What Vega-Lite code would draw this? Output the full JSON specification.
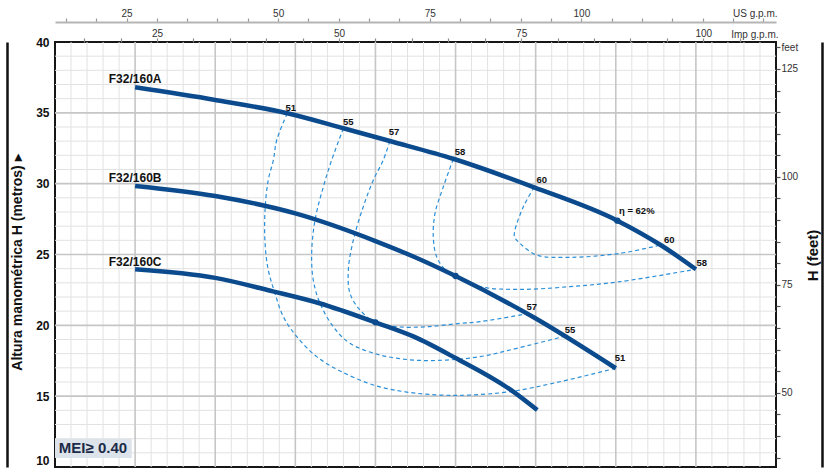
{
  "$schema": "https://vega.github.io/schema/vega-lite/v6.json",
  "width": 721,
  "height": 425,
  "autosize": {"type": "none"},
  "padding": {"left": 55, "top": 42, "right": 60, "bottom": 3},
  "background": "#ffffff",
  "config": {
    "view": {"stroke": "#161616", "strokeWidth": 2},
    "font": "Liberation Sans"
  },
  "datasets": {
    "vminor": [{"q":60},{"q":70},{"q":80},{"q":90},{"q":110},{"q":120},{"q":130},{"q":140},{"q":160},{"q":170},{"q":180},{"q":190},{"q":210},{"q":220},{"q":230},{"q":240},{"q":260},{"q":270},{"q":280},{"q":290},{"q":310},{"q":320},{"q":330},{"q":340},{"q":360},{"q":370},{"q":380},{"q":390},{"q":410},{"q":420},{"q":430},{"q":440},{"q":460},{"q":470},{"q":480},{"q":490}],
    "vmajor": [{"q":100},{"q":150},{"q":200},{"q":250},{"q":300},{"q":350},{"q":400},{"q":450}],
    "hminor": [{"h":11},{"h":12},{"h":13},{"h":14},{"h":16},{"h":17},{"h":18},{"h":19},{"h":21},{"h":22},{"h":23},{"h":24},{"h":26},{"h":27},{"h":28},{"h":29},{"h":31},{"h":32},{"h":33},{"h":34},{"h":36},{"h":37},{"h":38},{"h":39}],
    "hmajor": [{"h":15},{"h":20},{"h":25},{"h":30},{"h":35}],
    "mei": [{"q1": 50, "q2": 97.9, "h1": 11.98, "h2": 10.64, "t": "MEI≥ 0.40", "tq": 73.7, "th": 11.32}],
    "curves": [
      {"c": "A", "q": 100, "h": 36.80}, {"c": "A", "q": 150, "h": 35.91}, {"c": "A", "q": 195, "h": 34.97},
      {"c": "A", "q": 230, "h": 33.91}, {"c": "A", "q": 259, "h": 33.01}, {"c": "A", "q": 299, "h": 31.74},
      {"c": "A", "q": 349, "h": 29.74}, {"c": "A", "q": 401, "h": 27.39}, {"c": "A", "q": 428, "h": 25.67},
      {"c": "A", "q": 450, "h": 23.96},
      {"c": "B", "q": 100, "h": 29.84}, {"c": "B", "q": 150, "h": 29.13}, {"c": "B", "q": 200, "h": 27.90},
      {"c": "B", "q": 250, "h": 25.95}, {"c": "B", "q": 274, "h": 24.84}, {"c": "B", "q": 300, "h": 23.48},
      {"c": "B", "q": 349, "h": 20.55}, {"c": "B", "q": 400, "h": 16.97},
      {"c": "C", "q": 100, "h": 23.96}, {"c": "C", "q": 150, "h": 23.35}, {"c": "C", "q": 186, "h": 22.40},
      {"c": "C", "q": 215, "h": 21.56}, {"c": "C", "q": 250, "h": 20.21}, {"c": "C", "q": 274, "h": 19.20},
      {"c": "C", "q": 300, "h": 17.69}, {"c": "C", "q": 336, "h": 15.32}, {"c": "C", "q": 351, "h": 14.02}
    ],
    "iso": [
      {"e": "51", "s": 1, "q": 195, "h": 34.97}, {"e": "51", "s": 2, "q": 188.4, "h": 33.08},
      {"e": "51", "s": 3, "q": 186.3, "h": 31.67}, {"e": "51", "s": 4, "q": 183.1, "h": 30.26},
      {"e": "51", "s": 5, "q": 181.1, "h": 28.14}, {"e": "51", "s": 6, "q": 181.1, "h": 25.79},
      {"e": "51", "s": 7, "q": 183.1, "h": 23.91}, {"e": "51", "s": 8, "q": 187.3, "h": 22.26},
      {"e": "51", "s": 9, "q": 192.5, "h": 20.61}, {"e": "51", "s": 10, "q": 200.9, "h": 19.20},
      {"e": "51", "s": 11, "q": 213.3, "h": 17.79}, {"e": "51", "s": 12, "q": 227.9, "h": 16.78},
      {"e": "51", "s": 13, "q": 248.7, "h": 15.79}, {"e": "51", "s": 14, "q": 269.5, "h": 15.29},
      {"e": "51", "s": 15, "q": 290.3, "h": 15.08}, {"e": "51", "s": 16, "q": 309, "h": 15.08},
      {"e": "51", "s": 17, "q": 334, "h": 15.32}, {"e": "51", "s": 18, "q": 365.2, "h": 16.02},
      {"e": "51", "s": 19, "q": 400, "h": 16.97},
      {"e": "55", "s": 1, "q": 230, "h": 33.91}, {"e": "55", "s": 2, "q": 222.7, "h": 31.67},
      {"e": "55", "s": 3, "q": 217.5, "h": 29.79}, {"e": "55", "s": 4, "q": 212.3, "h": 27.44},
      {"e": "55", "s": 5, "q": 210.2, "h": 25.08}, {"e": "55", "s": 6, "q": 211.2, "h": 23.20},
      {"e": "55", "s": 7, "q": 215.4, "h": 21.56}, {"e": "55", "s": 8, "q": 223.7, "h": 19.90},
      {"e": "55", "s": 9, "q": 234.1, "h": 18.73}, {"e": "55", "s": 10, "q": 252.8, "h": 17.91},
      {"e": "55", "s": 11, "q": 273.6, "h": 17.55}, {"e": "55", "s": 12, "q": 294.5, "h": 17.55},
      {"e": "55", "s": 13, "q": 315.3, "h": 17.79}, {"e": "55", "s": 14, "q": 334, "h": 18.26},
      {"e": "55", "s": 15, "q": 367, "h": 19.20},
      {"e": "57", "s": 1, "q": 259, "h": 33.01}, {"e": "57", "s": 2, "q": 254.9, "h": 31.67},
      {"e": "57", "s": 3, "q": 248.7, "h": 30.26}, {"e": "57", "s": 4, "q": 242.4, "h": 28.37},
      {"e": "57", "s": 5, "q": 236.2, "h": 26.02}, {"e": "57", "s": 6, "q": 233.1, "h": 23.91},
      {"e": "57", "s": 7, "q": 234.1, "h": 22.26}, {"e": "57", "s": 8, "q": 240.4, "h": 21.08},
      {"e": "57", "s": 9, "q": 250, "h": 20.21}, {"e": "57", "s": 10, "q": 263.3, "h": 19.90},
      {"e": "57", "s": 11, "q": 282, "h": 19.90}, {"e": "57", "s": 12, "q": 302.8, "h": 20.14},
      {"e": "57", "s": 13, "q": 315.3, "h": 20.26}, {"e": "57", "s": 14, "q": 344.4, "h": 20.81},
      {"e": "58", "s": 1, "q": 298.6, "h": 31.74}, {"e": "58", "s": 2, "q": 292.4, "h": 29.79},
      {"e": "58", "s": 3, "q": 287.2, "h": 27.91}, {"e": "58", "s": 4, "q": 286.1, "h": 26.26},
      {"e": "58", "s": 5, "q": 288.2, "h": 24.84}, {"e": "58", "s": 6, "q": 293.4, "h": 23.94},
      {"e": "58", "s": 7, "q": 300, "h": 23.48}, {"e": "58", "s": 8, "q": 315.3, "h": 22.73},
      {"e": "58", "s": 9, "q": 340.2, "h": 22.54}, {"e": "58", "s": 10, "q": 371.4, "h": 22.73},
      {"e": "58", "s": 11, "q": 402.6, "h": 23.08}, {"e": "58", "s": 12, "q": 450, "h": 23.96},
      {"e": "60", "s": 1, "q": 349, "h": 29.74}, {"e": "60", "s": 2, "q": 342.3, "h": 28.37},
      {"e": "60", "s": 3, "q": 337.1, "h": 26.73}, {"e": "60", "s": 4, "q": 336.8, "h": 26.25},
      {"e": "60", "s": 5, "q": 340.2, "h": 25.79}, {"e": "60", "s": 6, "q": 350.6, "h": 24.96},
      {"e": "60", "s": 7, "q": 371.4, "h": 24.80}, {"e": "60", "s": 8, "q": 402.6, "h": 25.08},
      {"e": "60", "s": 9, "q": 428, "h": 25.67}
    ],
    "bep": [{"q": 401, "h": 27.39}, {"q": 300, "h": 23.48}, {"q": 250, "h": 20.21}],
    "efflabels": [
      {"t": "51", "q": 197.1, "h": 35.36}, {"t": "55", "q": 233.1, "h": 34.33},
      {"t": "57", "q": 261.6, "h": 33.63}, {"t": "58", "q": 302.8, "h": 32.24},
      {"t": "60", "q": 353.8, "h": 30.26}, {"t": "60", "q": 433.4, "h": 26.02},
      {"t": "58", "q": 453.6, "h": 24.38}, {"t": "57", "q": 347.5, "h": 21.32},
      {"t": "55", "q": 371.4, "h": 19.67}, {"t": "51", "q": 402.6, "h": 17.67},
      {"t": "η = 62%", "q": 413.1, "h": 28.09}
    ],
    "names": [
      {"t": "F32/160A", "q": 100, "h": 37.37},
      {"t": "F32/160B", "q": 100, "h": 30.38},
      {"t": "F32/160C", "q": 100, "h": 24.49}
    ]
  },
  "layer": [
    {
      "layer": [
        {
          "data": {"name": "vminor"},
          "mark": {"type": "rule", "color": "#e2e2e2", "strokeWidth": 1},
          "encoding": {
            "x": {
              "field": "q", "type": "quantitative",
              "scale": {"domain": [50, 500], "nice": false, "zero": false},
              "axis": {"orient": "bottom", "title": null, "labels": false, "ticks": false, "domain": false, "grid": false}
            }
          }
        },
        {
          "data": {"name": "hminor"},
          "mark": {"type": "rule", "color": "#e2e2e2", "strokeWidth": 1},
          "encoding": {
            "y": {
              "field": "h", "type": "quantitative",
              "scale": {"domain": [10, 40], "nice": false, "zero": false},
              "axis": {
                "orient": "left",
                "values": [10, 15, 20, 25, 30, 35, 40],
                "labelFont": "Liberation Sans", "labelFontWeight": "bold", "labelFontSize": 12,
                "labelColor": "#111111", "labelPadding": 6, "labelOverlap": false,
                "labelBaseline": {"condition": {"test": "datum.value === 10", "value": "bottom"}, "value": "middle"},
                "ticks": false, "domain": false, "grid": false,
                "title": "Altura manométrica H (metros)  ▸",
                "titleFont": "Liberation Sans", "titleFontSize": 14, "titleFontWeight": "bold", "titleColor": "#111111",
                "titleAngle": 270, "titleX": -38, "titleY": 220, "titleAlign": "center", "titleBaseline": "middle"
              }
            }
          }
        },
        {
          "data": {"name": "vmajor"},
          "mark": {"type": "rule", "color": "#c6c6c6", "strokeWidth": 1.6},
          "encoding": {"x": {"field": "q", "type": "quantitative"}}
        },
        {
          "data": {"name": "hmajor"},
          "mark": {"type": "rule", "color": "#c6c6c6", "strokeWidth": 1.6},
          "encoding": {"y": {"field": "h", "type": "quantitative"}}
        },
        {
          "data": {"name": "mei"},
          "mark": {"type": "rect", "color": "#dde3ea"},
          "encoding": {
            "x": {"field": "q1", "type": "quantitative"},
            "x2": {"field": "q2"},
            "y": {"field": "h1", "type": "quantitative"},
            "y2": {"field": "h2"}
          }
        },
        {
          "data": {"name": "iso"},
          "mark": {"type": "line", "interpolate": "catmull-rom", "color": "#2a8fd8", "strokeWidth": 1.2, "strokeDash": [4, 3]},
          "encoding": {
            "x": {"field": "q", "type": "quantitative"},
            "y": {"field": "h", "type": "quantitative"},
            "detail": {"field": "e"},
            "order": {"field": "s", "type": "quantitative"}
          }
        },
        {
          "data": {"name": "curves"},
          "mark": {"type": "line", "interpolate": "monotone", "color": "#0b4b8d", "strokeWidth": 4.5, "strokeCap": "butt"},
          "encoding": {
            "x": {"field": "q", "type": "quantitative"},
            "y": {"field": "h", "type": "quantitative"},
            "detail": {"field": "c"}
          }
        },
        {
          "data": {"name": "bep"},
          "mark": {"type": "point", "filled": true, "color": "#0b4b8d", "size": 40, "opacity": 1},
          "encoding": {
            "x": {"field": "q", "type": "quantitative"},
            "y": {"field": "h", "type": "quantitative"}
          }
        },
        {
          "data": {"name": "efflabels"},
          "mark": {"type": "text", "font": "Liberation Sans", "fontWeight": "bold", "fontSize": 9.5, "color": "#111111", "align": "center", "baseline": "middle"},
          "encoding": {
            "x": {"field": "q", "type": "quantitative"},
            "y": {"field": "h", "type": "quantitative"},
            "text": {"field": "t"}
          }
        },
        {
          "data": {"name": "names"},
          "mark": {"type": "text", "font": "Liberation Sans", "fontWeight": "bold", "fontSize": 12, "color": "#111111", "align": "center", "baseline": "middle"},
          "encoding": {
            "x": {"field": "q", "type": "quantitative"},
            "y": {"field": "h", "type": "quantitative"},
            "text": {"field": "t"}
          }
        },
        {
          "data": {"name": "mei"},
          "mark": {"type": "text", "font": "Liberation Sans", "fontWeight": "bold", "fontSize": 15, "color": "#1c2b48", "align": "center", "baseline": "middle"},
          "encoding": {
            "x": {"field": "tq", "type": "quantitative"},
            "y": {"field": "th", "type": "quantitative"},
            "text": {"field": "t"}
          }
        }
      ]
    },
    {
      "data": {"values": [{"u": 60, "m": 20}]},
      "mark": {"type": "point", "opacity": 0},
      "encoding": {
        "x": {
          "field": "u", "type": "quantitative",
          "scale": {"domain": [13.2086, 132.086], "nice": false, "zero": false},
          "axis": {
            "orient": "top", "offset": 20,
            "values": [15,20,25,30,35,40,45,50,55,60,65,70,75,80,85,90,95,100,105,110,115,120,125,130],
            "labelExpr": "datum.value % 25 === 0 && datum.value < 125 ? datum.label : ''",
            "labelFont": "Liberation Sans", "labelFontSize": 10, "labelColor": "#333333", "labelPadding": 0,
            "labelOverlap": false, "labelFlush": false,
            "tickSize": 4, "tickColor": "#999999", "tickWidth": 1.2,
            "domainColor": "#b5b5b5", "domainWidth": 2, "grid": false,
            "title": "US g.p.m.", "titleFont": "Liberation Sans", "titleFontSize": 10, "titleFontWeight": "normal",
            "titleColor": "#333333", "titleX": 722, "titleY": -9, "titleAlign": "right", "titleBaseline": "middle"
          }
        },
        "y": {
          "field": "m", "type": "quantitative",
          "scale": {"domain": [10, 40], "nice": false, "zero": false},
          "axis": {"orient": "left", "offset": 48, "labels": false, "ticks": false, "grid": false, "title": null, "domainColor": "#111111", "domainWidth": 2.5}
        }
      }
    },
    {
      "data": {"values": [{"i": 60, "m": 20}]},
      "mark": {"type": "point", "opacity": 0},
      "encoding": {
        "x": {
          "field": "i", "type": "quantitative",
          "scale": {"domain": [10.9985, 109.985], "nice": false, "zero": false},
          "axis": {
            "orient": "top", "offset": 0,
            "values": [15,20,25,30,35,40,45,50,55,60,65,70,75,80,85,90,95,100,105],
            "labelExpr": "datum.value % 25 === 0 ? datum.label : ''",
            "labelFont": "Liberation Sans", "labelFontSize": 10, "labelColor": "#333333", "labelPadding": 0,
            "labelOverlap": false, "labelFlush": false,
            "tickSize": 4, "tickColor": "#8a8a8a", "tickWidth": 1.2,
            "domain": false, "grid": false,
            "title": "Imp g.p.m.", "titleFont": "Liberation Sans", "titleFontSize": 10, "titleFontWeight": "normal",
            "titleColor": "#333333", "titleX": 723, "titleY": -8, "titleAlign": "right", "titleBaseline": "middle"
          }
        },
        "y": {
          "field": "m", "type": "quantitative",
          "scale": {"domain": [10, 40], "nice": false, "zero": false},
          "axis": {"orient": "right", "offset": 46, "labels": false, "ticks": false, "grid": false, "title": null, "domainColor": "#111111", "domainWidth": 2.5}
        }
      }
    },
    {
      "data": {"values": [{"f": 60}]},
      "mark": {"type": "point", "opacity": 0},
      "encoding": {
        "y": {
          "field": "f", "type": "quantitative",
          "scale": {"domain": [32.8084, 131.2336], "nice": false, "zero": false},
          "axis": {
            "orient": "right", "offset": 0,
            "values": [35,40,45,50,55,60,65,70,75,80,85,90,95,100,105,110,115,120,125,130],
            "labelExpr": "datum.value === 130 ? 'feet' : (datum.value % 25 === 0 ? datum.label : '')",
            "labelFont": "Liberation Sans", "labelFontSize": 10, "labelColor": "#333333", "labelPadding": 1,
            "labelOverlap": false,
            "tickSize": 4, "tickColor": "#555555", "tickWidth": 1.2,
            "domain": false, "grid": false,
            "title": "H (feet)", "titleFont": "Liberation Sans", "titleFontSize": 15, "titleFontWeight": "bold",
            "titleColor": "#111111", "titleAngle": 270, "titleX": 36, "titleY": 213, "titleAlign": "center", "titleBaseline": "middle"
          }
        }
      }
    }
  ],
  "resolve": {
    "scale": {"x": "independent", "y": "independent"},
    "axis": {"x": "independent", "y": "independent"}
  }
}
